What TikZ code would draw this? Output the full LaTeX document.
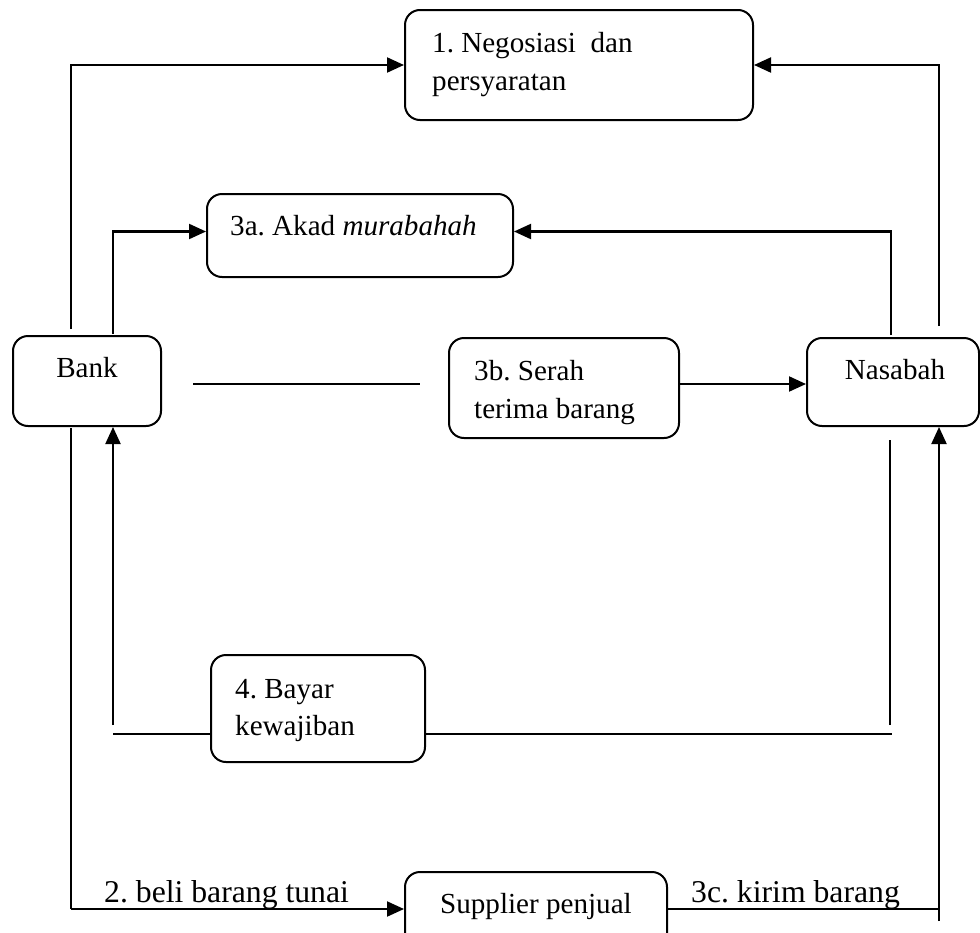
\documentclass[tikz,border=0pt]{standalone}
\usepackage{fontspec}
\setmainfont{Liberation Serif}
\usetikzlibrary{arrows.meta}
\frenchspacing
\begin{document}
\begin{tikzpicture}[x=1pt,y=-1pt,
  box/.style={draw, line width=2pt, rounded corners=15pt, inner sep=0pt},
  lbl/.style={anchor=base west, inner sep=0pt, font=\fontsize{29.1}{38}\selectfont},
  flowlbl/.style={anchor=base west, inner sep=0pt, font=\fontsize{31.7}{38}\selectfont},
  ln/.style={line width=2.1pt},
  arr/.style={ln, -{Triangle[length=17pt,width=15pt]}}]
\useasboundingbox (0,0) rectangle (980,932);
% boxes
\node[box, minimum width=348pt, minimum height=110pt] (n1) at (579,65) {};
\node[box, minimum width=306pt, minimum height=83pt] (n3a) at (360,235.5) {};
\node[box, minimum width=148pt, minimum height=90pt] (bank) at (87,381) {};
\node[box, minimum width=230pt, minimum height=100pt] (n3b) at (564,388) {};
\node[box, minimum width=172pt, minimum height=88pt] (nas) at (893,382) {};
\node[box, minimum width=214pt, minimum height=107pt] (n4) at (318,708.5) {};
\node[box, minimum width=262pt, minimum height=100pt] (sup) at (536,922) {};
% texts
\node[lbl] (t1a) at (432,52) {1. Negosiasi\ \ dan};
\node[lbl] (t1b) at (432,90) {persyaratan};
\node[lbl] (t3a) at (230,235) {3a. Akad \textit{murabahah}};
\node[lbl, anchor=base] (tbank) at (87,377) {Bank};
\node[lbl] (t3b1) at (474,380) {3b. Serah};
\node[lbl] (t3b2) at (474,418) {terima barang};
\node[lbl, anchor=base] (tnas) at (895,379) {Nasabah};
\node[lbl] (t4a) at (235,698) {4. Bayar};
\node[lbl] (t4b) at (235,735) {kewajiban};
\node[lbl] (tsup) at (440,913) {Supplier penjual};
\node[flowlbl] (t2) at (104,902) {2. beli barang tunai};
\node[flowlbl] (t3c) at (691,902) {3c. kirim barang};
% free ends
\coordinate (a1) at (71,329);
\coordinate (a2) at (113,334);
\coordinate (a3) at (71,428);
\coordinate (a3b) at (71,909);
\coordinate (a4) at (113,725);
\coordinate (b4l) at (113,734);
\coordinate (b4r) at (892,734);
\coordinate (c4a) at (890,725);
\coordinate (c4b) at (890,440);
\coordinate (d1) at (193,384);
\coordinate (d2) at (420,384);
\coordinate (e1) at (891,335);
\coordinate (f1) at (939,326);
\coordinate (g1) at (939,921);
\coordinate (h) at (939,909);
% connectors
\draw[arr] (a1) |- (n1.west);
\draw[arr] (a2) |- ([yshift=4pt]n3a.west);
\draw[ln] (a3) -- (a3b);
\draw[arr] (a3b) -- (a3b -| sup.west);
\draw[arr] (a4) -- (a4 |- bank.south);
\draw[ln] (b4l) -- (b4l -| n4.west);
\draw[ln] (b4r -| n4.east) -- (b4r);
\draw[ln] (c4a) -- (c4b);
\draw[ln] (d1) -- (d2);
\draw[arr] ([yshift=4pt]n3b.east) -- ([yshift=4pt]n3b.east -| nas.west);
\draw[arr] (e1) |- ([yshift=4pt]n3a.east);
\draw[arr] (f1) |- (n1.east);
\draw[arr] (g1) -- (g1 |- nas.south);
\draw[ln] (h -| sup.east) -- (h);
\end{tikzpicture}
\end{document}
